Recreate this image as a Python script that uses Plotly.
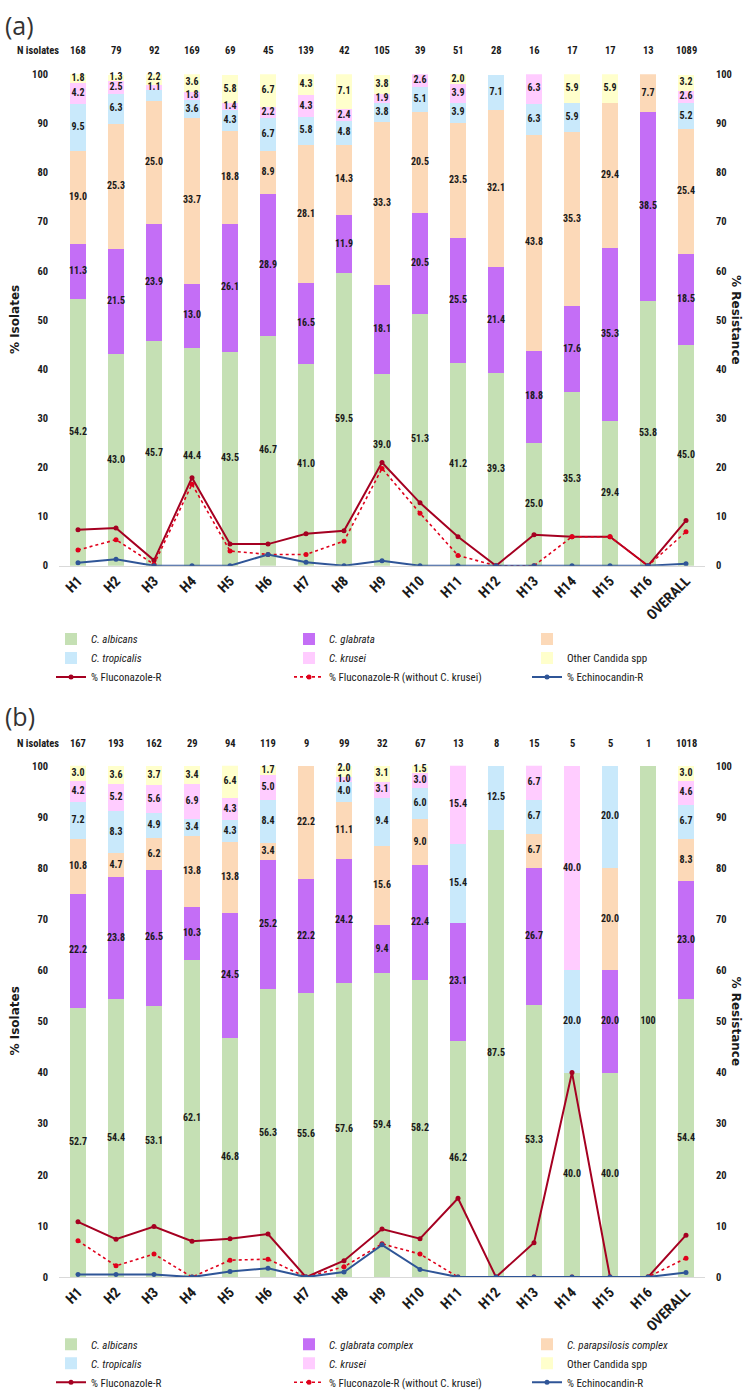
import plotly.graph_objects as go

categories = ["H1", "H2", "H3", "H4", "H5", "H6", "H7", "H8", "H9", "H10",
              "H11", "H12", "H13", "H14", "H15", "H16", "OVERALL"]

# ---------------- Panel (a) ----------------
n_isolates_a = [168, 79, 92, 169, 69, 45, 139, 42, 105, 39, 51, 28, 16, 17, 17, 13, 1089]
albicans_a = [54.2, 43.0, 45.7, 44.4, 43.5, 46.7, 41.0, 59.5, 39.0, 51.3, 41.2, 39.3, 25.0, 35.3, 29.4, 53.8, 45.0]
glabrata_a = [11.3, 21.5, 23.9, 13.0, 26.1, 28.9, 16.5, 11.9, 18.1, 20.5, 25.5, 21.4, 18.8, 17.6, 35.3, 38.5, 18.5]
parapsilosis_a = [19.0, 25.3, 25.0, 33.7, 18.8, 8.9, 28.1, 14.3, 33.3, 20.5, 23.5, 32.1, 43.8, 35.3, 29.4, 7.7, 25.4]
tropicalis_a = [9.5, 6.3, 2.2, 3.6, 4.3, 6.7, 5.8, 4.8, 3.8, 5.1, 3.9, 7.1, 6.3, 5.9, 0, 0, 5.2]
krusei_a = [4.2, 2.5, 1.1, 1.8, 1.4, 2.2, 4.3, 2.4, 1.9, 2.6, 3.9, 0, 6.3, 0, 0, 0, 2.6]
other_a = [1.8, 1.3, 2.2, 3.6, 5.8, 6.7, 4.3, 7.1, 3.8, 0, 2.0, 0, 0, 5.9, 5.9, 0, 3.2]
fluc_r_a = [7.3, 7.7, 1.1, 17.9, 4.4, 4.4, 6.5, 7.1, 21.0, 12.8, 5.9, 0, 6.3, 5.9, 5.9, 0, 9.2]
fluc_r_no_krusei_a = [3.2, 5.3, 0.3, 16.6, 3.0, 2.3, 2.3, 5.0, 19.8, 10.7, 2.1, 0, 0, 5.9, 5.9, 0, 6.9]
echino_r_a = [0.6, 1.3, 0, 0, 0, 2.3, 0.7, 0, 1.0, 0, 0, 0, 0, 0, 0, 0, 0.4]

# ---------------- Panel (b) ----------------
n_isolates_b = [167, 193, 162, 29, 94, 119, 9, 99, 32, 67, 13, 8, 15, 5, 5, 1, 1018]
albicans_b = [52.7, 54.4, 53.1, 62.1, 46.8, 56.3, 55.6, 57.6, 59.4, 58.2, 46.2, 87.5, 53.3, 40.0, 40.0, 100, 54.4]
glabrata_b = [22.2, 23.8, 26.5, 10.3, 24.5, 25.2, 22.2, 24.2, 9.4, 22.4, 23.1, 0, 26.7, 0, 20.0, 0, 23.0]
parapsilosis_b = [10.8, 4.7, 6.2, 13.8, 13.8, 3.4, 22.2, 11.1, 15.6, 9.0, 0, 0, 6.7, 0, 20.0, 0, 8.3]
tropicalis_b = [7.2, 8.3, 4.9, 3.4, 4.3, 8.4, 0, 4.0, 9.4, 6.0, 15.4, 12.5, 6.7, 20.0, 20.0, 0, 6.7]
krusei_b = [4.2, 5.2, 5.6, 6.9, 4.3, 5.0, 0, 1.0, 3.1, 3.0, 15.4, 0, 6.7, 40.0, 0, 0, 4.6]
other_b = [3.0, 3.6, 3.7, 3.4, 6.4, 1.7, 0, 2.0, 3.1, 1.5, 0, 0, 0, 0, 0, 0, 3.0]
fluc_r_b = [10.8, 7.4, 9.9, 7.0, 7.5, 8.4, 0, 3.2, 9.4, 7.5, 15.4, 0, 6.7, 40.0, 0, 0, 8.2]
fluc_r_no_krusei_b = [7.1, 2.2, 4.5, 0, 3.3, 3.5, 0, 2.0, 6.5, 4.5, 0, 0, 0, 0, 0, 0, 3.7]
echino_r_b = [0.5, 0.5, 0.5, 0, 1.1, 1.7, 0, 1.0, 6.3, 1.5, 0, 0, 0, 0, 0, 0, 0.9]

species_names_a = ["<i>C. albicans</i>", "<i>C. glabrata</i>", " ",
                   "<i>C. tropicalis</i>", "<i>C. krusei</i>", "Other Candida spp"]
species_names_b = ["<i>C. albicans</i>", "<i>C. glabrata complex</i>", "<i>C. parapsilosis complex</i>",
                   "<i>C. tropicalis</i>", "<i>C. krusei</i>", "Other Candida spp"]
line_names = ["% Fluconazole-R", "% Fluconazole-R (without C. krusei)", "% Echinocandin-R"]
y_ticks = [0, 10, 20, 30, 40, 50, 60, 70, 80, 90, 100]

# labels that are not printed in the original (panel, species index, category)
hidden_labels = {("a", 3, "H3")}
# labels moved off the resistance line in the original (axis units)
label_nudge = {("a", 0, "H9"): 5.0}

species_colors = ["#C5E0B4", "#C46EF6", "#FCD9B8", "#C9E9FB", "#FFCCFF", "#FFFFCC"]
line_colors = ["#A50021", "#E0001B", "#2F5597"]

FONT = "Liberation Sans Narrow, Arial Narrow, Roboto Condensed, Liberation Sans, sans-serif"
TXT = "#1a1a1a"

H = 1397
W = 748
L, R = 59, 43
PW = W - L - R
MIN_LABEL_GAP = 2.0  # minimum vertical spacing between stacked labels (axis units)


def py(px):
    return 1 - px / H


def pxx(px):
    return (px - L) / PW


fig = go.Figure()


def fmt(v):
    return "100" if v == 100 else f"{v:.1f}"


species_col = [0, 1, 2, 0, 1, 2]
line_col = [0, 1, 2]


def add_panel(tag, species, names, lines, xa, ya, ya2, legends):
    for i, (vals, name) in enumerate(zip(species, names)):
        fig.add_trace(go.Bar(
            x=categories, y=vals, name=name, marker_color=species_colors[i],
            marker_line_width=0, xaxis=xa, yaxis=ya, legend=legends[species_col[i]],
            width=0.42, textposition="none", hoverinfo="skip"))
    styles = [dict(width=2, dash="solid"), dict(width=1.6, dash="dot"), dict(width=2, dash="solid")]
    for k, (vals, name) in enumerate(zip(lines, line_names)):
        fig.add_trace(go.Scatter(
            x=categories, y=vals, name=name, mode="lines+markers",
            line=dict(color=line_colors[k], **styles[k]),
            marker=dict(color=line_colors[k], size=5),
            xaxis=xa, yaxis=ya2, legend=legends[line_col[k]]))
    # data labels at segment centres (nudged apart when too close), drawn on top
    label_y = [[None] * len(categories) for _ in species]
    label_t = [[""] * len(categories) for _ in species]
    for j in range(len(categories)):
        base = 0.0
        prev = None
        for i, vals in enumerate(species):
            v = vals[j]
            key = (tag, i, categories[j])
            if v > 0 and key not in hidden_labels:
                y = base + v / 2 + label_nudge.get(key, 0.0)
                if prev is not None and y - prev < MIN_LABEL_GAP:
                    y = prev + MIN_LABEL_GAP
                label_y[i][j] = y
                label_t[i][j] = fmt(v)
                prev = y
            base += v
    for i in range(len(species)):
        fig.add_trace(go.Scatter(
            x=categories, y=label_y[i], text=label_t[i], mode="text", showlegend=False,
            textfont=dict(family=FONT, size=10, color=TXT, weight="bold"),
            xaxis=xa, yaxis=ya2, hoverinfo="skip", cliponaxis=False))


add_panel("a", [albicans_a, glabrata_a, parapsilosis_a, tropicalis_a, krusei_a, other_a],
          species_names_a, [fluc_r_a, fluc_r_no_krusei_a, echino_r_a], "x", "y", "y2",
          ["legend", "legend2", "legend3"])
add_panel("b", [albicans_b, glabrata_b, parapsilosis_b, tropicalis_b, krusei_b, other_b],
          species_names_b, [fluc_r_b, fluc_r_no_krusei_b, echino_r_b], "x2", "y3", "y4",
          ["legend4", "legend5", "legend6"])

dom_a = [py(565), py(69)]
dom_b = [py(1283), py(767)]

xcommon = dict(type="category", categoryorder="array", categoryarray=categories,
               tickangle=-45, showgrid=False, showline=True, linecolor="#D9D9D9", linewidth=1,
               tickfont=dict(family=FONT, size=14.5, color=TXT, weight="bold"), ticks="",
               range=[-0.5, len(categories) - 0.5], fixedrange=True)
ycommon = dict(range=[0, 100], tickvals=y_ticks, showgrid=False, zeroline=False, showline=False,
               tickfont=dict(family=FONT, size=10.5, color=TXT, weight="bold"),
               ticklabelstandoff=10, fixedrange=True)


def legend_cfg(col_px, mid_px):
    return dict(orientation="v", x=pxx(col_px), xanchor="left", y=py(mid_px), yanchor="middle",
                traceorder="normal", font=dict(family=FONT, size=11, color=TXT), itemwidth=30,
                bgcolor="rgba(0,0,0,0)", borderwidth=0, tracegroupgap=0)


cols_px = [51, 289, 527]
fig.update_layout(
    width=W, height=H,
    margin=dict(l=L, r=R, t=0, b=0),
    paper_bgcolor="white", plot_bgcolor="white",
    barmode="stack", showlegend=True,
    xaxis=dict(anchor="y", domain=[0, 1], **xcommon),
    yaxis=dict(domain=dom_a, anchor="x", **ycommon),
    yaxis2=dict(overlaying="y", side="right", anchor="x", **ycommon),
    xaxis2=dict(anchor="y3", domain=[0, 1], **xcommon),
    yaxis3=dict(domain=dom_b, anchor="x2", **ycommon),
    yaxis4=dict(overlaying="y3", side="right", anchor="x2", **ycommon),
    legend=legend_cfg(cols_px[0], 658),
    legend2=legend_cfg(cols_px[1], 658),
    legend3=legend_cfg(cols_px[2], 658),
    legend4=legend_cfg(cols_px[0], 1370),
    legend5=legend_cfg(cols_px[1], 1370),
    legend6=legend_cfg(cols_px[2], 1370),
)

annotations = []
for tag, ns, y_n, y_title, ymid in [("a", n_isolates_a, 45, 19, 317),
                                    ("b", n_isolates_b, 744, 717, 1025)]:
    xa = "x" if tag == "a" else "x2"
    annotations.append(dict(text=f"({tag})", xref="paper", yref="paper", x=pxx(3),
                            y=py(y_title), xanchor="left", yanchor="middle", showarrow=False,
                            font=dict(family="Open Sans, Lato, sans-serif", size=25, color="#333333")))
    annotations.append(dict(text="N isolates", xref="paper", yref="paper", x=pxx(61),
                            y=py(y_n), xanchor="right", yanchor="middle", showarrow=False,
                            font=dict(family=FONT, size=10.5, color=TXT, weight="bold")))
    for c, n in zip(categories, ns):
        annotations.append(dict(text=str(n), xref=xa, yref="paper", x=c, y=py(y_n),
                                xanchor="center", yanchor="middle", showarrow=False,
                                font=dict(family=FONT, size=10.5, color=TXT, weight="bold")))
    annotations.append(dict(text="% Isolates", xref="paper", yref="paper", x=pxx(15),
                            y=py(ymid), xanchor="center", yanchor="middle", showarrow=False,
                            textangle=-90,
                            font=dict(family="DejaVu Sans, sans-serif", size=12, color=TXT, weight="bold")))
    annotations.append(dict(text="% Resistance", xref="paper", yref="paper", x=pxx(736),
                            y=py(ymid), xanchor="center", yanchor="middle", showarrow=False,
                            textangle=90,
                            font=dict(family="DejaVu Sans, sans-serif", size=12, color=TXT, weight="bold")))

fig.update_layout(annotations=annotations)

fig.write_html("out.html", config={"displayModeBar": False},
               post_script="document.body.style.margin='0';document.body.style.overflow='hidden';")
